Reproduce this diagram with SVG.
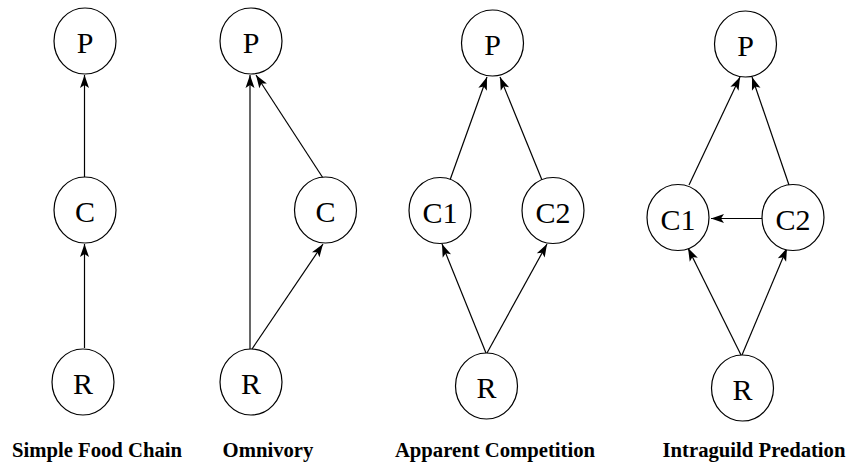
<svg xmlns="http://www.w3.org/2000/svg" width="856" height="462" viewBox="0 0 856 462">
<style>
.node ellipse{fill:#fff;stroke:#000;stroke-width:1.2}
.node text{font-family:"Liberation Serif","Times New Roman",serif;font-size:30px;text-anchor:middle;fill:#000}
.edge{stroke:#000;stroke-width:1.2;fill:none;marker-end:url(#ah)}
.title{font-family:"Liberation Serif","Times New Roman",serif;font-size:20.7px;font-weight:bold;text-anchor:middle;fill:#000}
</style>
<defs>
<marker id="ah" markerUnits="userSpaceOnUse" markerWidth="16" markerHeight="12" refX="13" refY="5" orient="auto" overflow="visible">
<path d="M13,5 L0,0.5 L3,5 L0,9.5 Z" fill="#000"/>
</marker>
</defs>
<rect width="856" height="462" fill="#fff"/>
<g id="connectors">
<line class="edge" x1="84.5" y1="177" x2="84.5" y2="75"/>
<line class="edge" x1="84.5" y1="348" x2="84.5" y2="244"/>
<line class="edge" x1="250" y1="349" x2="250" y2="75"/>
<line class="edge" x1="323" y1="178" x2="256" y2="75"/>
<line class="edge" x1="252" y1="349" x2="323" y2="244"/>
<line class="edge" x1="450" y1="180" x2="487" y2="77"/>
<line class="edge" x1="542" y1="180" x2="500" y2="77"/>
<line class="edge" x1="486" y1="353" x2="442" y2="244"/>
<line class="edge" x1="487" y1="353" x2="547" y2="244"/>
<line class="edge" x1="689" y1="185" x2="740" y2="77"/>
<line class="edge" x1="789" y1="185" x2="752" y2="77"/>
<line class="edge" x1="741" y1="355" x2="688" y2="248"/>
<line class="edge" x1="742" y1="355" x2="787" y2="248"/>
<line class="edge" x1="762" y1="218.5" x2="711" y2="218.5"/>
</g>
<g id="sfc-P" class="node"><ellipse cx="85" cy="41" rx="31" ry="33"/><text x="85" y="52.5">P</text></g>
<g id="sfc-C" class="node"><ellipse cx="85" cy="210" rx="31" ry="33"/><text x="85" y="222">C</text></g>
<g id="sfc-R" class="node"><ellipse cx="83" cy="382" rx="31" ry="33"/><text x="83" y="394">R</text></g>
<g id="omn-P" class="node"><ellipse cx="251" cy="41" rx="31" ry="33"/><text x="251" y="52.5">P</text></g>
<g id="omn-C" class="node"><ellipse cx="325.5" cy="210" rx="31" ry="33"/><text x="325.5" y="222">C</text></g>
<g id="omn-R" class="node"><ellipse cx="251" cy="382" rx="31" ry="33"/><text x="251" y="394">R</text></g>
<g id="ac-P" class="node"><ellipse cx="492.5" cy="43" rx="31" ry="33"/><text x="492.5" y="54.5">P</text></g>
<g id="ac-C1" class="node"><ellipse cx="440" cy="210.5" rx="31" ry="33"/><text x="440" y="223">C1</text></g>
<g id="ac-C2" class="node"><ellipse cx="553" cy="210.5" rx="31" ry="33"/><text x="553" y="223">C2</text></g>
<g id="ac-R" class="node"><ellipse cx="486.5" cy="386" rx="31" ry="33"/><text x="486.5" y="398">R</text></g>
<g id="ig-P" class="node"><ellipse cx="745.5" cy="44" rx="31" ry="33"/><text x="745.5" y="55.5">P</text></g>
<g id="ig-C1" class="node"><ellipse cx="678" cy="217.5" rx="31" ry="33"/><text x="678" y="230">C1</text></g>
<g id="ig-C2" class="node"><ellipse cx="793" cy="217.5" rx="31" ry="33"/><text x="793" y="230">C2</text></g>
<g id="ig-R" class="node"><ellipse cx="742.5" cy="388" rx="31" ry="33"/><text x="742.5" y="400">R</text></g>
<g id="titles">
<text class="title" x="97" y="457">Simple Food Chain</text>
<text class="title" x="268" y="457">Omnivory</text>
<text class="title" x="495" y="457">Apparent Competition</text>
<text class="title" x="754" y="457">Intraguild Predation</text>
</g>
</svg>
